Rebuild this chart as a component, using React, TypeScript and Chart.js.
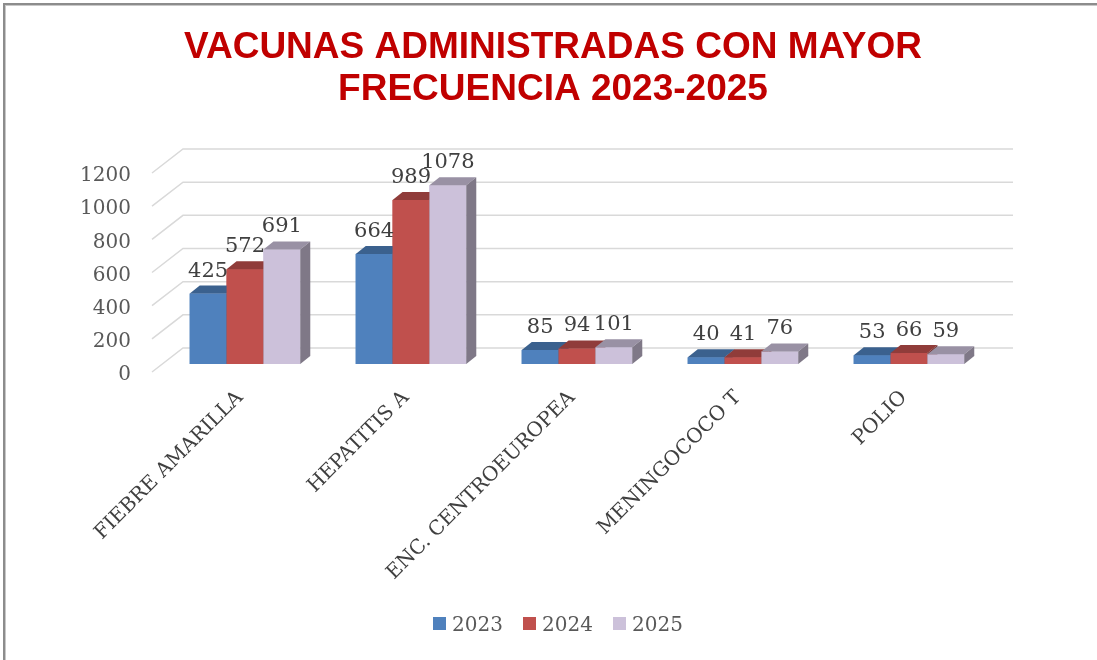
import React, { useEffect, useRef } from "react";
import { Chart, registerables } from "chart.js";

Chart.register(...registerables);

const categories = ["FIEBRE AMARILLA", "HEPATITIS A", "ENC. CENTROEUROPEA", "MENINGOCOCO T", "POLIO"];
const seriesNames = ["2023", "2024", "2025"];
const values2023 = [425, 664, 85, 40, 53];
const values2024 = [572, 989, 94, 41, 66];
const values2025 = [691, 1078, 101, 76, 59];
const yTicks = [0, 200, 400, 600, 800, 1000, 1200];
const titleLines = ["VACUNAS ADMINISTRADAS CON MAYOR", "FRECUENCIA 2023-2025"];

const frontColors = ["#4F81BD", "#C0504D", "#CCC1DA"];
const topColors = ["#3B618E", "#903C3A", "#9991A4"];
const sideColors = ["#31507A", "#773230", "#7F7887"];

const SERIF = "'DejaVu Serif', serif";
const SANS = "'Liberation Sans', Arial, sans-serif";

// 3D offsets (pixels)
const BAR_DX = 10;
const BAR_DY = -8;
const FRONT_DX = -10;
const FRONT_DY = 8;
const BACK_DX = 21;
const BACK_DY = -16;

const threeDPlugin = {
  id: "threeD",
  beforeDatasetsDraw(chart: any) {
    const { ctx, chartArea, scales } = chart;
    const ys = scales.y;
    ctx.save();
    ctx.strokeStyle = "#D9D9D9";
    ctx.lineWidth = 1.5;
    for (const v of yTicks) {
      const py = ys.getPixelForValue(v);
      ctx.beginPath();
      ctx.moveTo(chartArea.left + FRONT_DX, py + FRONT_DY);
      ctx.lineTo(chartArea.left + BACK_DX, py + BACK_DY);
      ctx.lineTo(chartArea.right + BACK_DX, py + BACK_DY);
      ctx.stroke();
    }
    ctx.restore();
  },
  afterDatasetsDraw(chart: any) {
    const { ctx } = chart;
    const nDs = chart.data.datasets.length;
    ctx.save();
    for (let i = 0; i < categories.length; i++) {
      for (let d = 0; d < nDs; d++) {
        const el = chart.getDatasetMeta(d).data[i];
        if (!el) continue;
        const { x, y, base, width } = el.getProps(["x", "y", "base", "width"], true);
        const l = x - width / 2;
        const r = x + width / 2;
        ctx.fillStyle = frontColors[d];
        ctx.fillRect(l, y, width, base - y);
        ctx.fillStyle = topColors[d];
        ctx.beginPath();
        ctx.moveTo(l, y);
        ctx.lineTo(r, y);
        ctx.lineTo(r + BAR_DX, y + BAR_DY);
        ctx.lineTo(l + BAR_DX, y + BAR_DY);
        ctx.closePath();
        ctx.fill();
        ctx.fillStyle = sideColors[d];
        ctx.beginPath();
        ctx.moveTo(r, y);
        ctx.lineTo(r + BAR_DX, y + BAR_DY);
        ctx.lineTo(r + BAR_DX, base + BAR_DY);
        ctx.lineTo(r, base);
        ctx.closePath();
        ctx.fill();
      }
    }
    ctx.fillStyle = "#404040";
    ctx.font = `21px ${SERIF}`;
    ctx.textAlign = "center";
    ctx.textBaseline = "alphabetic";
    for (let d = 0; d < nDs; d++) {
      const meta = chart.getDatasetMeta(d);
      const vals = chart.data.datasets[d].data;
      meta.data.forEach((el: any, i: number) => {
        const { x, y } = el.getProps(["x", "y"], true);
        ctx.fillText(String(vals[i]), x, y - 17);
      });
    }
    ctx.restore();
  },
  afterDraw(chart: any) {
    const { ctx } = chart;
    ctx.save();
    ctx.fillStyle = "#8C8C8C";
    ctx.fillRect(3, 3, 2, 657);
    ctx.fillRect(3, 3, 1094, 2);
    ctx.fillStyle = "#C8C8C8";
    ctx.fillRect(5, 5, 1, 655);
    ctx.fillRect(5, 5, 1092, 1);
    ctx.fillStyle = "#C00000";
    ctx.font = `bold 37px ${SANS}`;
    ctx.textAlign = "center";
    ctx.textBaseline = "alphabetic";
    ctx.fillText(titleLines[0], 553, 58);
    ctx.fillText(titleLines[1], 553, 100);
    ctx.font = `20px ${SERIF}`;
    ctx.textAlign = "left";
    const startX = 433;
    const step = 90;
    chart.data.datasets.forEach((ds: any, d: number) => {
      const bx = startX + d * step;
      ctx.fillStyle = frontColors[d];
      ctx.fillRect(bx, 617, 13, 13);
      ctx.fillStyle = "#595959";
      ctx.fillText(ds.label, bx + 19, 631);
    });
    ctx.restore();
  },
};

export default function App() {
  const canvasRef = useRef<HTMLCanvasElement | null>(null);

  useEffect(() => {
    if (!canvasRef.current) return;
    const seriesValues = [values2023, values2024, values2025];
    const chart = new Chart(canvasRef.current, {
      type: "bar",
      data: {
        labels: categories,
        datasets: seriesNames.map((name, d) => ({
          label: name,
          data: seriesValues[d],
          backgroundColor: frontColors[d],
          borderWidth: 0,
          categoryPercentage: 0.666,
          barPercentage: 1,
        })),
      },
      options: {
        responsive: false,
        animation: false,
        layout: { padding: { top: 165, right: 105, bottom: 0, left: 0 } },
        plugins: {
          legend: { display: false },
          title: { display: false },
          tooltip: { enabled: false },
        },
        scales: {
          x: {
            grid: { display: false, drawTicks: false },
            border: { display: false },
            ticks: {
              autoSkip: false,
              minRotation: 45,
              maxRotation: 45,
              padding: 22,
              labelOffset: -5,
              color: "#404040",
              font: { family: SERIF, size: 20 },
            },
            afterFit(scale: any) {
              scale.height = 296;
            },
          },
          y: {
            min: 0,
            max: 1200,
            grid: { display: false, drawTicks: false },
            border: { display: false },
            ticks: {
              stepSize: 200,
              labelOffset: 11,
              padding: 31,
              color: "#595959",
              font: { family: SERIF, size: 20 },
              callback: (v: any) => String(v),
            },
            afterFit(scale: any) {
              scale.width = 162;
            },
          },
        },
      },
      plugins: [threeDPlugin],
    });
    return () => chart.destroy();
  }, []);

  return (
    <div style={{ position: "fixed", left: 0, top: 0, width: 1097, height: 660, background: "#fff" }}>
      <canvas ref={canvasRef} width={1097} height={660} style={{ display: "block" }} />
    </div>
  );
}
